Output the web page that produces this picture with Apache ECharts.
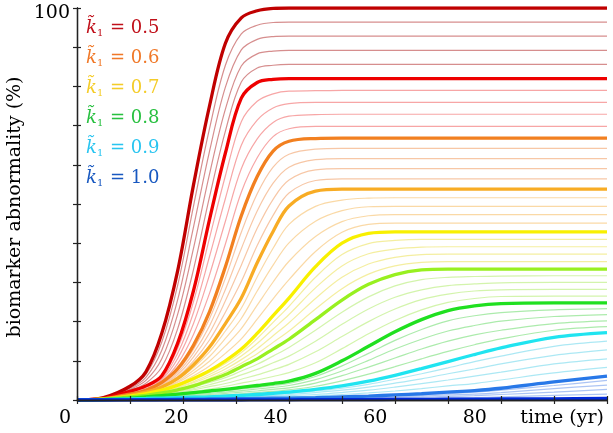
<!DOCTYPE html>
<html><head><meta charset="utf-8">
<script src="https://cdn.jsdelivr.net/npm/echarts@6/dist/echarts.min.js"></script>
<style>html,body{margin:0;padding:0;background:#fff}#c{width:613px;height:433px}</style>
</head><body><div id="c"></div>
<script>
// time grid (yr)
const X = [0,5,10,13,16,19,22,25,28,31,34,37,40,45,50,55,60,65,70,75,80,90,100];
// thick curves, biomarker abnormality (%)
const k050 = [0,0.6,3.5,7.2,17,33,55,75,91,97.5,99.3,99.9,100,100,100,100,100,100,100,100,100,100,100];
const k055 = [0,0.4,2.2,3.6,6.2,14.5,28,46,63,77,81,81.8,82,82,82,82,82,82,82,82,82,82,82];
const k060 = [0,0.3,1.5,2.5,4.5,8,14,22.5,34,47,57,63.5,66,66.7,66.8,66.8,66.8,66.8,66.8,66.8,66.8,66.8,66.8];
const k065 = [0,0.3,1.2,2,3.3,5.5,9,13.5,19.5,26,35,43,49.5,53.3,53.8,53.8,53.8,53.8,53.8,53.8,53.8,53.8,53.8];
const k070 = [0,0.2,1,1.6,2.5,3.8,5.5,7.5,10,13,17,21.5,26,34,40,42.5,42.9,42.9,42.9,42.9,42.9,42.9,42.9];
const k075 = [0,0.2,0.8,1.2,1.8,2.6,3.6,5,6.5,8.5,10.5,13,15.5,20.5,25.5,29.5,32,33.2,33.4,33.4,33.4,33.4,33.4];
const k080 = [0,0.1,0.5,0.8,1.1,1.5,1.9,2.3,2.7,3.2,3.7,4.2,4.8,6.8,10,13.7,17.4,20.5,22.8,24,24.6,24.8,24.8];
const k090 = [0,0.1,0.3,0.4,0.5,0.6,0.7,0.8,1,1.2,1.4,1.7,2,2.7,3.6,4.8,6.3,8,9.8,11.6,13.3,16,17.2];
const k095 = [0,0,0.1,0.1,0.15,0.2,0.2,0.25,0.3,0.35,0.4,0.45,0.5,0.6,0.8,1,1.3,1.6,2,2.4,3,4.6,6.1];
const k100 = [0,0,0,0,0,0,0,0,0,0,0.05,0.05,0.05,0.1,0.1,0.1,0.15,0.15,0.2,0.2,0.25,0.3,0.4];
const thickCurves = [k050,k055,k060,k065,k070,k075,k080,k090,k095,k100];
const thickNames = ['0.50','0.55','0.60','0.65','0.70','0.75','0.80','0.90','0.95','1.00'];
const thickColors = ['#c00000','#ee0000','#f28020','#f8ac24','#f8f000','#98f020','#20e020','#20e4f0','#2878e8','#0028d8'];

// thin curves lying between consecutive thick curves (read/estimated from the picture)
const thinA = [
 [0,0.6,3.2,6.5,14.8,29.3,49.6,69.2,85.4,93.4,95.6,96.3,96.4,96.4,96.4,96.4,96.4,96.4,96.4,96.4,96.4,96.4,96.4],
 [0,0.5,3.0,5.8,12.7,25.6,44.2,63.4,79.8,89.3,92.0,92.7,92.8,92.8,92.8,92.8,92.8,92.8,92.8,92.8,92.8,92.8,92.8],
 [0,0.5,2.7,5.0,10.5,21.9,38.8,57.6,74.2,85.2,88.3,89.0,89.2,89.2,89.2,89.2,89.2,89.2,89.2,89.2,89.2,89.2,89.2],
 [0,0.4,2.5,4.3,8.4,18.2,33.4,51.8,68.6,81.1,84.7,85.4,85.6,85.6,85.6,85.6,85.6,85.6,85.6,85.6,85.6,85.6,85.6]];
const thinB = [
 [0,0.4,2.1,3.4,5.9,13.2,25.2,41.3,57.2,71,76.2,78.1,78.8,78.9,79.0,79.0,79.0,79.0,79.0,79.0,79.0,79.0,79.0],
 [0,0.4,1.9,3.2,5.5,11.9,22.4,36.6,51.4,65,71.4,74.5,75.6,75.9,75.9,75.9,75.9,75.9,75.9,75.9,75.9,75.9,75.9],
 [0,0.3,1.8,2.9,5.2,10.6,19.6,31.9,45.6,59,66.6,70.8,72.4,72.8,72.9,72.9,72.9,72.9,72.9,72.9,72.9,72.9,72.9],
 [0,0.3,1.6,2.7,4.8,9.3,16.8,27.2,39.8,53,61.8,67.2,69.2,69.8,69.8,69.8,69.8,69.8,69.8,69.8,69.8,69.8,69.8]];
const thinC = [
 [0,0.3,1.4,2.4,4.3,7.5,13,20.7,31.1,42.8,52.6,59.4,62.7,64.0,64.2,64.2,64.2,64.2,64.2,64.2,64.2,64.2,64.2],
 [0,0.3,1.4,2.3,4.0,7.0,12,18.9,28.2,38.6,48.2,55.3,59.4,61.3,61.6,61.6,61.6,61.6,61.6,61.6,61.6,61.6,61.6],
 [0,0.3,1.3,2.2,3.8,6.5,11,17.1,25.3,34.4,43.8,51.2,56.1,58.7,59.0,59.0,59.0,59.0,59.0,59.0,59.0,59.0,59.0],
 [0,0.3,1.3,2.1,3.5,6.0,10,15.3,22.4,30.2,39.4,47.1,52.8,56.0,56.4,56.4,56.4,56.4,56.4,56.4,56.4,56.4,56.4]];
const thinD = [
 [0,0.3,1.2,1.9,3.1,5.2,8.3,12.3,17.6,23.4,31.4,38.7,44.8,49.4,51.0,51.5,51.6,51.6,51.6,51.6,51.6,51.6,51.6],
 [0,0.3,1.1,1.8,3.0,4.8,7.6,11.1,15.7,20.8,27.8,34.4,40.1,45.6,48.3,49.3,49.4,49.4,49.4,49.4,49.4,49.4,49.4],
 [0,0.2,1.1,1.8,2.8,4.5,6.9,9.9,13.8,18.2,24.2,30.1,35.4,41.7,45.5,47.0,47.3,47.3,47.3,47.3,47.3,47.3,47.3],
 [0,0.2,1.0,1.7,2.7,4.1,6.2,8.7,11.9,15.6,20.6,25.8,30.7,37.9,42.8,44.8,45.1,45.1,45.1,45.1,45.1,45.1,45.1]];
const thinE = [
 [0,0.2,1.0,1.5,2.4,3.6,5.1,7.0,9.3,12.1,15.7,19.8,23.9,31.3,37.1,39.9,40.7,41.0,41.0,41.0,41.0,41.0,41.0],
 [0,0.2,0.9,1.4,2.2,3.3,4.7,6.5,8.6,11.2,14.4,18.1,21.8,28.6,34.2,37.3,38.5,39.0,39.1,39.1,39.1,39.1,39.1],
 [0,0.2,0.9,1.4,2.1,3.1,4.4,6.0,7.9,10.3,13.1,16.4,19.7,25.9,31.3,34.7,36.4,37.1,37.2,37.2,37.2,37.2,37.2],
 [0,0.2,0.8,1.3,1.9,2.8,4.0,5.5,7.2,9.4,11.8,14.7,17.6,23.2,28.4,32.1,34.2,35.1,35.3,35.3,35.3,35.3,35.3]];
const thinF = [
 [0,0.2,0.7,1.1,1.7,2.4,3.3,4.5,5.7,7.4,9.1,11.2,13.4,17.8,22.4,26.3,29.1,30.7,31.3,31.5,31.6,31.7,31.7],
 [0,0.2,0.7,1.0,1.5,2.2,2.9,3.9,5.0,6.4,7.8,9.5,11.2,15.0,19.3,23.2,26.2,28.1,29.2,29.6,29.9,30.0,30.0],
 [0,0.1,0.6,1.0,1.4,2.0,2.6,3.4,4.2,5.3,6.4,7.7,9.1,12.3,16.2,20.0,23.2,25.6,27.0,27.8,28.1,28.2,28.2],
 [0,0.1,0.6,0.9,1.2,1.7,2.2,2.8,3.5,4.3,5.1,6.0,7.0,9.5,13.1,16.9,20.3,23.0,24.9,25.9,26.4,26.5,26.5]];
const thinG = [
 [0,0.1,0.5,0.7,1.0,1.3,1.7,2.0,2.4,2.8,3.2,3.7,4.2,6.0,8.7,11.9,15.2,18.0,20.2,21.5,22.3,23.0,23.3],
 [0,0.1,0.4,0.6,0.9,1.1,1.4,1.7,2.0,2.4,2.8,3.2,3.7,5.2,7.4,10.1,13.0,15.5,17.6,19.0,20.1,21.3,21.8],
 [0,0.1,0.4,0.6,0.7,1.0,1.2,1.4,1.7,2.0,2.3,2.7,3.1,4.3,6.2,8.4,10.7,13.0,15.0,16.6,17.8,19.5,20.2],
 [0,0.1,0.3,0.5,0.6,0.8,0.9,1.1,1.3,1.6,1.9,2.2,2.6,3.5,4.9,6.6,8.5,10.5,12.4,14.1,15.6,17.8,18.7]];
const thinH = [
 [0,0.1,0.3,0.3,0.4,0.5,0.6,0.7,0.9,1.0,1.2,1.5,1.7,2.3,3.0,4.0,5.3,6.7,8.2,9.8,11.2,13.7,15.0],
 [0,0.1,0.2,0.3,0.4,0.4,0.5,0.6,0.7,0.9,1.0,1.2,1.4,1.9,2.5,3.3,4.3,5.4,6.7,7.9,9.2,11.4,12.8],
 [0,0,0.2,0.2,0.3,0.4,0.4,0.5,0.6,0.7,0.8,1.0,1.1,1.4,1.9,2.5,3.3,4.2,5.1,6.1,7.1,9.2,10.5],
 [0,0,0.1,0.2,0.2,0.3,0.3,0.4,0.4,0.5,0.6,0.7,0.8,1.0,1.4,1.8,2.3,2.9,3.6,4.2,5.1,6.9,8.3]];
const thinI = [
 [0,0,0.1,0.1,0.1,0.2,0.2,0.2,0.2,0.3,0.3,0.4,0.4,0.5,0.7,0.8,1.1,1.3,1.6,2.0,2.5,3.7,5.0],
 [0,0,0.1,0.1,0.1,0.1,0.1,0.2,0.2,0.2,0.3,0.3,0.3,0.4,0.5,0.6,0.8,1.0,1.3,1.5,1.9,2.9,3.8],
 [0,0,0,0,0.1,0.1,0.1,0.1,0.1,0.1,0.2,0.2,0.2,0.3,0.4,0.5,0.6,0.7,0.9,1.1,1.4,2.0,2.7],
 [0,0,0,0,0,0,0,0.1,0.1,0.1,0.1,0.1,0.1,0.2,0.2,0.3,0.4,0.4,0.5,0.6,0.8,1.2,1.5]];
const thinGroups = [thinA,thinB,thinC,thinD,thinE,thinF,thinG,thinH,thinI];
const thinColors = ['#c86868','#f48888','#f4b488','#f8cc88','#f0e880','#c4f090','#90e490','#90e0f0','#90b0f0'];

// legend labels
const legendValues = ['0.5','0.6','0.7','0.8','0.9','1.0'];
const legendColors = ['#c0101a','#f07828','#f4cc28','#28c040','#28c4f0','#1858c0'];

const FONT = 'DejaVu Serif';
const chart = echarts.init(document.getElementById('c'));
const series = [];
thinGroups.forEach((grp,g)=>grp.forEach((ys,i)=>series.push({
  name:'thin'+g+'_'+i, type:'line', data: X.map((x,j)=>[x, ys[j]]), showSymbol:false, smooth:0.35,
  lineStyle:{color:thinColors[g], width:1.2, opacity:0.75}, z:5, silent:true
})));
thickCurves.forEach((ys,i)=>series.push({
  name:'k'+thickNames[i], type:'line', data: X.map((x,j)=>[x, ys[j]]), showSymbol:false, smooth:0.35,
  lineStyle:{color:thickColors[i], width:3.3}, z:10, silent:true
}));
const graphic = legendValues.map((v,i)=>({
  type:'text', left:86, top: 31 + 30*i - 12,
  style:{
    text:'{k|k\u0303}{s|1}{t| = '+v+'}',
    rich:{
      k:{fontFamily:FONT, fontStyle:'italic', fontSize:18, fill:legendColors[i]},
      s:{fontFamily:FONT, fontSize:10, fill:legendColors[i], padding:[10,1,0,0]},
      t:{fontFamily:FONT, fontSize:18, fill:legendColors[i]}
    }
  }
}));
graphic.push({type:'text', x:15, y:207, rotation:Math.PI/2,
  style:{text:'biomarker abnormality (%)', fontFamily:FONT, fontSize:19, fill:'#000', align:'center', verticalAlign:'middle'}});

const axisCommon = {type:'value', min:0, max:100, interval:10, splitLine:{show:false},
  axisLine:{show:true, lineStyle:{color:'#222', width:1.3}},
  axisTick:{show:true, inside:true, length:4, lineStyle:{color:'#222', width:1.2}},
  axisLabel:{show:false}, z:20};
chart.setOption({
  backgroundColor:'#fff', animation:false,
  grid:{left:77, right:6, top:8, bottom:33},
  xAxis:[
    Object.assign({}, axisCommon, {position:'bottom'}),
    Object.assign({}, axisCommon, {position:'top'}),
    {type:'value', min:0, max:106.6, interval:20, position:'bottom', splitLine:{show:false},
     axisLine:{show:false}, axisTick:{show:false},
     axisLabel:{show:true, margin:9, color:'#000', fontFamily:FONT, fontSize:19, showMaxLabel:false,
       formatter:v=> v===0 ? '{p|0}' : (v===100 ? '{p|time (yr)}' : (v%20===0 ? String(v) : '')),
       rich:{p:{fontFamily:FONT, fontSize:19, color:'#000', padding:[0,24,0,0]}}}}
  ],
  yAxis:[
    Object.assign({}, axisCommon, {position:'left', axisLabel:{show:true, margin:7, color:'#000', fontFamily:FONT, fontSize:19,
       formatter:v=> v===100 ? '{p|100}' : '', rich:{p:{fontFamily:FONT, fontSize:19, color:'#000', padding:[10,0,0,0]}}}}),
    Object.assign({}, axisCommon, {position:'right'})
  ],
  graphic: graphic,
  series: series
});
</script></body></html>
